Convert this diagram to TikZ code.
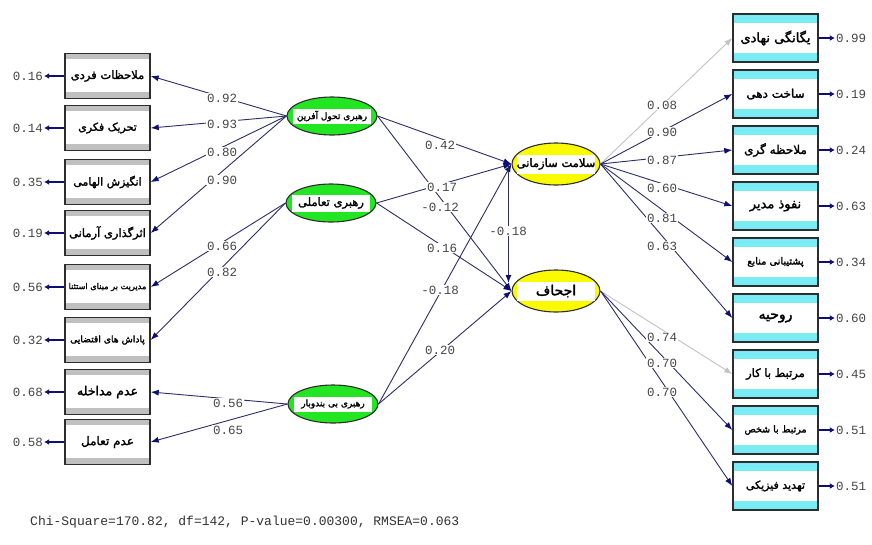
\documentclass[tikz,border=0pt]{standalone}
\usepackage{fontspec}
\usetikzlibrary{shapes.geometric,arrows.meta}
\TeXXeTstate=1
\newfontfamily\fa[Script=Arabic,FakeBold=2]{DejaVu Sans}
\newfontfamily\mono{Liberation Mono}
\newcommand\fsz[1]{\fontsize{#1}{#1}\selectfont}
\definecolor{linec}{RGB}{45,45,105}
\definecolor{tipc}{RGB}{15,15,115}
\definecolor{lgray}{RGB}{195,195,195}
\definecolor{band}{RGB}{192,192,192}
\definecolor{cyanb}{RGB}{120,235,245}
\definecolor{grn}{RGB}{35,230,35}
\definecolor{yel}{RGB}{250,250,0}
\definecolor{numc}{RGB}{70,70,70}
\definecolor{bord}{RGB}{45,45,45}
\tikzset{
  obsl/.style={draw=bord, line width=1.4pt, minimum width=85pt, minimum height=45pt, inner sep=0pt,
    fill=band, font=\fa\fsz{11},
    path picture={\fill[white] ([yshift=-5pt]path picture bounding box.north west) rectangle ([yshift=7pt]path picture bounding box.south east);}},
  obsr/.style={draw=bord, line width=1.4pt, minimum width=85pt, minimum height=48pt, inner sep=0pt,
    fill=cyanb, font=\fa\fsz{12},
    path picture={\fill[white] ([yshift=-9pt]path picture bounding box.north west) rectangle ([yshift=9pt]path picture bounding box.south east);}},
  latg/.style={ellipse, draw=bord, line width=1.1pt, fill=grn, minimum width=90pt, minimum height=38pt, inner sep=0pt},
  laty/.style={ellipse, draw=bord, line width=1.1pt, fill=yel, minimum width=88pt, minimum height=42pt, inner sep=0pt},
  ltext/.style={fill=white, inner sep=0pt, minimum width=78pt, minimum height=15pt, font=\fa\fsz{9}},
  ytext/.style={fill=white, inner sep=0pt, minimum width=78pt, minimum height=19pt, font=\fa\fsz{11.5}},
  num/.style={font=\mono\fontsize{12.5}{13}\selectfont, text=numc, fill=white, inner sep=1pt},
  errnum/.style={font=\mono\fontsize{12.5}{13}\selectfont, text=numc, inner sep=1pt},
  load/.style={draw=linec, line width=0.9pt, -{Latex[length=8pt,width=6pt,color=tipc]}},
  loadg/.style={draw=lgray, line width=0.9pt, -{Latex[length=8pt,width=6pt,color=lgray]}},
  errar/.style={draw=tipc, line width=2pt, -{Latex[length=5pt,width=6pt]}},
}
\begin{document}
\begin{tikzpicture}[x=1pt,y=-1pt]
\useasboundingbox[fill=white] (0,0) rectangle (872,544);

% left observed boxes
\node[obsl] (L1) at (107.5,76) {\fsz{11.5}\beginR ملاحظات فردی\endR};
\node[obsl] (L2) at (107.5,128) {\beginR تحریک فکری\endR};
\node[obsl] (L3) at (107.5,182) {\beginR انگیزش الهامی\endR};
\node[obsl] (L4) at (107.5,233) {\fsz{11.5}\beginR اثرگذاری آرمانی\endR};
\node[obsl] (L5) at (107.5,287) {\fsz{8.2}\beginR مدیریت بر مبنای استثنا\endR};
\node[obsl] (L6) at (107.5,340) {\fsz{9.2}\beginR پاداش های اقتضایی\endR};
\node[obsl] (L7) at (107.5,392) {\fsz{12.5}\beginR عدم مداخله\endR};
\node[obsl] (L8) at (107.5,442) {\fsz{12}\beginR عدم تعامل\endR};

% left error values
\node[errnum] (e1) at (28,76) {0.16};
\node[errnum] (e2) at (28,128) {0.14};
\node[errnum] (e3) at (28,182) {0.35};
\node[errnum] (e4) at (28,233) {0.19};
\node[errnum] (e5) at (28,287) {0.56};
\node[errnum] (e6) at (28,340) {0.32};
\node[errnum] (e7) at (28,392) {0.68};
\node[errnum] (e8) at (28,442) {0.58};
\foreach \i in {1,...,8} {\draw[errar] (L\i.west) -- (e\i.east);}

% right observed boxes
\node[obsr] (R1) at (775.5,38) {\fsz{13}\beginR یگانگی نهادی\endR};
\node[obsr] (R2) at (775.5,94) {\beginR ساخت دهی\endR};
\node[obsr] (R3) at (775.5,150) {\beginR ملاحظه گری\endR};
\node[obsr] (R4) at (775.5,206) {\fsz{13}\beginR نفوذ مدیر\endR};
\node[obsr] (R5) at (775.5,262) {\fsz{9.8}\beginR پشتیبانی منابع\endR};
\node[obsr] (R6) at (775.5,318) {\fsz{14}\beginR روحیه\endR};
\node[obsr] (R7) at (775.5,374) {\fsz{11.5}\beginR مرتبط با کار\endR};
\node[obsr] (R8) at (775.5,430) {\fsz{9.5}\beginR مرتبط با شخص\endR};
\node[obsr] (R9) at (775.5,486) {\fsz{11}\beginR تهدید فیزیکی\endR};

\node[errnum] (f1) at (851,38) {0.99};
\node[errnum] (f2) at (851,94) {0.19};
\node[errnum] (f3) at (851,150) {0.24};
\node[errnum] (f4) at (851,206) {0.63};
\node[errnum] (f5) at (851,262) {0.34};
\node[errnum] (f6) at (851,318) {0.60};
\node[errnum] (f7) at (851,374) {0.45};
\node[errnum] (f8) at (851,430) {0.51};
\node[errnum] (f9) at (851,486) {0.51};
\foreach \i in {1,...,9} {\draw[errar] (R\i.east) -- (f\i.west);}

% latent variables
\node[latg] (T) at (332,116) {};
\node[latg] (I) at (331,203) {};
\node[latg] (B) at (333,404) {};
\node[laty] (S) at (556,164) {};
\node[laty] (E) at (556,291) {};

% loadings left
\draw[load] (T.west) -- (L1.east);
\draw[load] (T.west) -- (L2.east);
\draw[load] (T.west) -- (L3.east);
\draw[load] (T.west) -- (L4.east);
\draw[load] (I.west) -- (L5.east);
\draw[load] (I.west) -- (L6.east);
\draw[load] (B.west) -- (L7.east);
\draw[load] (B.west) -- (L8.east);

% loadings right
\draw[loadg] (S.east) -- (R1.west);
\draw[load] (S.east) -- (R2.west);
\draw[load] (S.east) -- (R3.west);
\draw[load] (S.east) -- (R4.west);
\draw[load] (S.east) -- (R5.west);
\draw[load] (S.east) -- (R6.west);
\draw[loadg] (E.east) -- (R7.west);
\draw[load] (E.east) -- (R8.west);
\draw[load] (E.east) -- (R9.west);

% structural paths
\draw[load] (T.east) -- (S.west);
\draw[load] (T.east) -- (E.west);
\draw[load] (I.east) -- (S.west);
\draw[load] (I.east) -- (E.west);
\draw[load] (B.east) -- (S.west);
\draw[load] (B.east) -- (E.west);
\draw[load] ([xshift=-3pt]S.west) -- ([xshift=-3pt,yshift=8pt]E.west);

% latent labels
\node[ltext] (Tt) at (T) {\beginR رهبری تحول آفرین\endR};
\node[ltext, minimum height=17pt] (It) at (I) {\fsz{11.5}\beginR رهبری تعاملی\endR};
\node[ltext] (Bt) at (B) {\beginR رهبری بی بندوبار\endR};
\node[ytext] (St) at (S) {\beginR سلامت سازمانی\endR};
\node[ytext] (Et) at (E) {\fsz{14}\beginR اجحاف\endR};

% coefficient labels
\node[num] (n1) at (222,98) {0.92};
\node[num] (n2) at (222,124) {0.93};
\node[num] (n3) at (222,152) {0.80};
\node[num] (n4) at (222,180) {0.90};
\node[num] (n5) at (222,246) {0.66};
\node[num] (n6) at (222,272) {0.82};
\node[num] (n7) at (228,403) {0.56};
\node[num] (n8) at (228,430) {0.65};

\node[num] (m1) at (440,145) {0.42};
\node[num] (m2) at (442,187) {0.17};
\node[num] (m3) at (440,207) {-0.12};
\node[num] (m4) at (442,248) {0.16};
\node[num] (m5) at (440,290) {-0.18};
\node[num] (m6) at (440,350) {0.20};
\node[num] (m7) at (508,231) {-0.18};

\node[num] (k1) at (662,105) {0.08};
\node[num] (k2) at (662,132) {0.90};
\node[num] (k3) at (662,160) {0.87};
\node[num] (k4) at (662,188) {0.60};
\node[num] (k5) at (662,218) {0.81};
\node[num] (k6) at (662,246) {0.63};
\node[num] (k7) at (662,337) {0.74};
\node[num] (k8) at (662,363) {0.70};
\node[num] (k9) at (662,392) {0.70};

\node[anchor=west, font=\mono\fontsize{13}{14}\selectfont, text=black!80, inner sep=0pt] (fit) at (30,522) {Chi-Square=170.82, df=142, P-value=0.00300, RMSEA=0.063};
\end{tikzpicture}
\end{document}
